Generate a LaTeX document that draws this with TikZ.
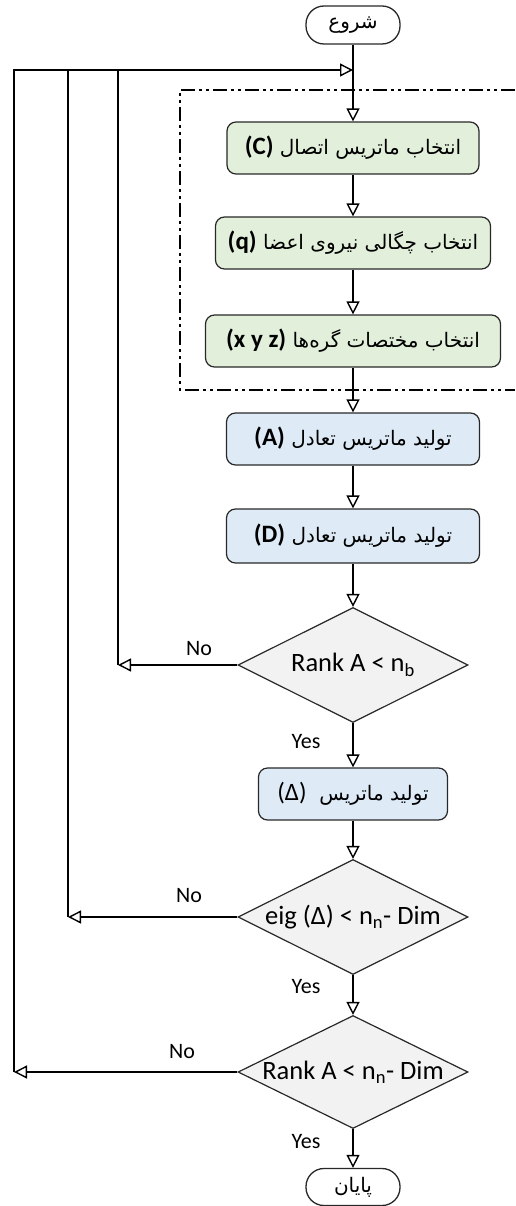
\documentclass[tikz,border=0pt]{standalone}
\usepackage{fontspec}
\setmainfont{Carlito}
\newfontfamily\fafont[Script=Arabic,Scale=0.8]{DejaVu Sans}
\TeXXeTstate=1
\usetikzlibrary{shapes.geometric,arrows.meta}
\definecolor{greenbox}{RGB}{226,239,218}
\definecolor{bluebox}{RGB}{222,235,247}
\definecolor{graybox}{RGB}{242,242,242}
\definecolor{edge}{RGB}{40,40,40}
\newcommand{\fa}[1]{{\fafont\beginR #1\endR}}
\newcommand{\latb}[1]{\beginL{\rmfamily\bfseries #1}\endL}
\newcommand{\lat}[1]{\beginL{\rmfamily #1}\endL}
\tikzset{
	flow/.style={-{Triangle[open,length=13pt,width=13pt]},line width=1.4pt,draw=black},
	plain/.style={line width=1.4pt,draw=black},
	terminal/.style={draw=edge,line width=1.3pt,rounded corners=18pt,minimum width=94pt,minimum height=38pt,inner sep=0pt,font=\fontsize{25}{30}\selectfont},
	greenstep/.style={draw=edge,fill=greenbox,line width=1.2pt,rounded corners=9pt,minimum height=52pt,inner sep=0pt,font=\fontsize{25}{30}\selectfont},
	bluestep/.style={draw=edge,fill=bluebox,line width=1.2pt,rounded corners=9pt,minimum height=52pt,inner sep=0pt,font=\fontsize{25}{30}\selectfont},
	test/.style={diamond,draw=edge,fill=graybox,line width=1.2pt,aspect=2,minimum width=230pt,minimum height=115pt,inner sep=0pt,font=\fontsize{26.5}{31}\selectfont},
	answer/.style={font=\fontsize{22}{26}\selectfont,inner sep=0pt}
}
\begin{document}
\begin{tikzpicture}[x=1pt,y=-1pt]
	\useasboundingbox (0,0) rectangle (515,1206);
	% selection block
	\draw[line width=1.3pt,dash pattern=on 14pt off 4pt on 3pt off 4pt on 3pt off 4pt] (515,90) -- (180,90) -- (180,390) -- (515,390);
	\node[terminal] (start) at (353,25) {\fa{شروع}};
	\coordinate (merge) at (353,70);
	\node[greenstep,minimum width=252pt] (selC) at (353,148) {\fa{انتخاب ماتریس اتصال \latb{(C)}}};
	\node[greenstep,minimum width=275pt] (selQ) at (353,243) {\fa{انتخاب چگالی نیروی اعضا \latb{(q)}}};
	\node[greenstep,minimum width=295pt] (selX) at (353,341) {\fa{انتخاب مختصات گره‌ها \latb{(x y z)}}};
	\node[bluestep,minimum width=253pt] (genA) at (353,439) {\fa{تولید ماتریس تعادل \latb{(A)}}};
	\node[bluestep,minimum width=253pt,minimum height=54pt] (genD) at (353,536) {\fa{تولید ماتریس تعادل \latb{(D)}}};
	\node[test] (rankB) at (353,665) {Rank A < n\textsubscript{b}};
	\node[bluestep,minimum width=189pt] (genDelta) at (353,794) {\fa{تولید ماتریس \ \lat{(Δ)}}};
	\node[test] (eig) at (353,917) {eig (Δ) < n\textsubscript{n}- Dim};
	\node[test,minimum height=113pt] (rankN) at (353,1072) {Rank A < n\textsubscript{n}- Dim};
	\node[terminal,minimum height=37pt] (stop) at (353,1187) {\fa{پایان}};
	% return points
	\coordinate (backB) at (118,665);
	\coordinate (backE) at (68,917);
	\coordinate (backN) at (14,1072);
	% main flow
	\draw[plain] (start) -- (merge);
	\draw[flow] (merge) -- (selC);
	\draw[flow] (selC) -- (selQ);
	\draw[flow] (selQ) -- (selX);
	\draw[flow] (selX) -- (genA);
	\draw[flow] (genA) -- (genD);
	\draw[flow] (genD) -- (rankB);
	\draw[flow] (rankB) -- (genDelta);
	\draw[flow] (genDelta) -- (eig);
	\draw[flow] (eig) -- (rankN);
	\draw[flow] (rankN) -- (stop);
	% loops back
	\draw[flow] (rankB.west) -- (backB);
	\draw[flow] (eig.west) -- (backE);
	\draw[flow] (rankN.west) -- (backN);
	\draw[plain] (backB) -- (backB |- merge);
	\draw[plain] (backE) -- (backE |- merge);
	\draw[flow,line join=miter] (backN) |- (merge);
	% answers
	\node[answer] (noB) at (199,649) {No};
	\node[answer] (noE) at (189,896) {No};
	\node[answer] (noN) at (182,1052) {No};
	\node[answer] (yesB) at (306,742) {Yes};
	\node[answer] (yesE) at (306,987) {Yes};
	\node[answer] (yesN) at (306,1142) {Yes};
\end{tikzpicture}
\end{document}
